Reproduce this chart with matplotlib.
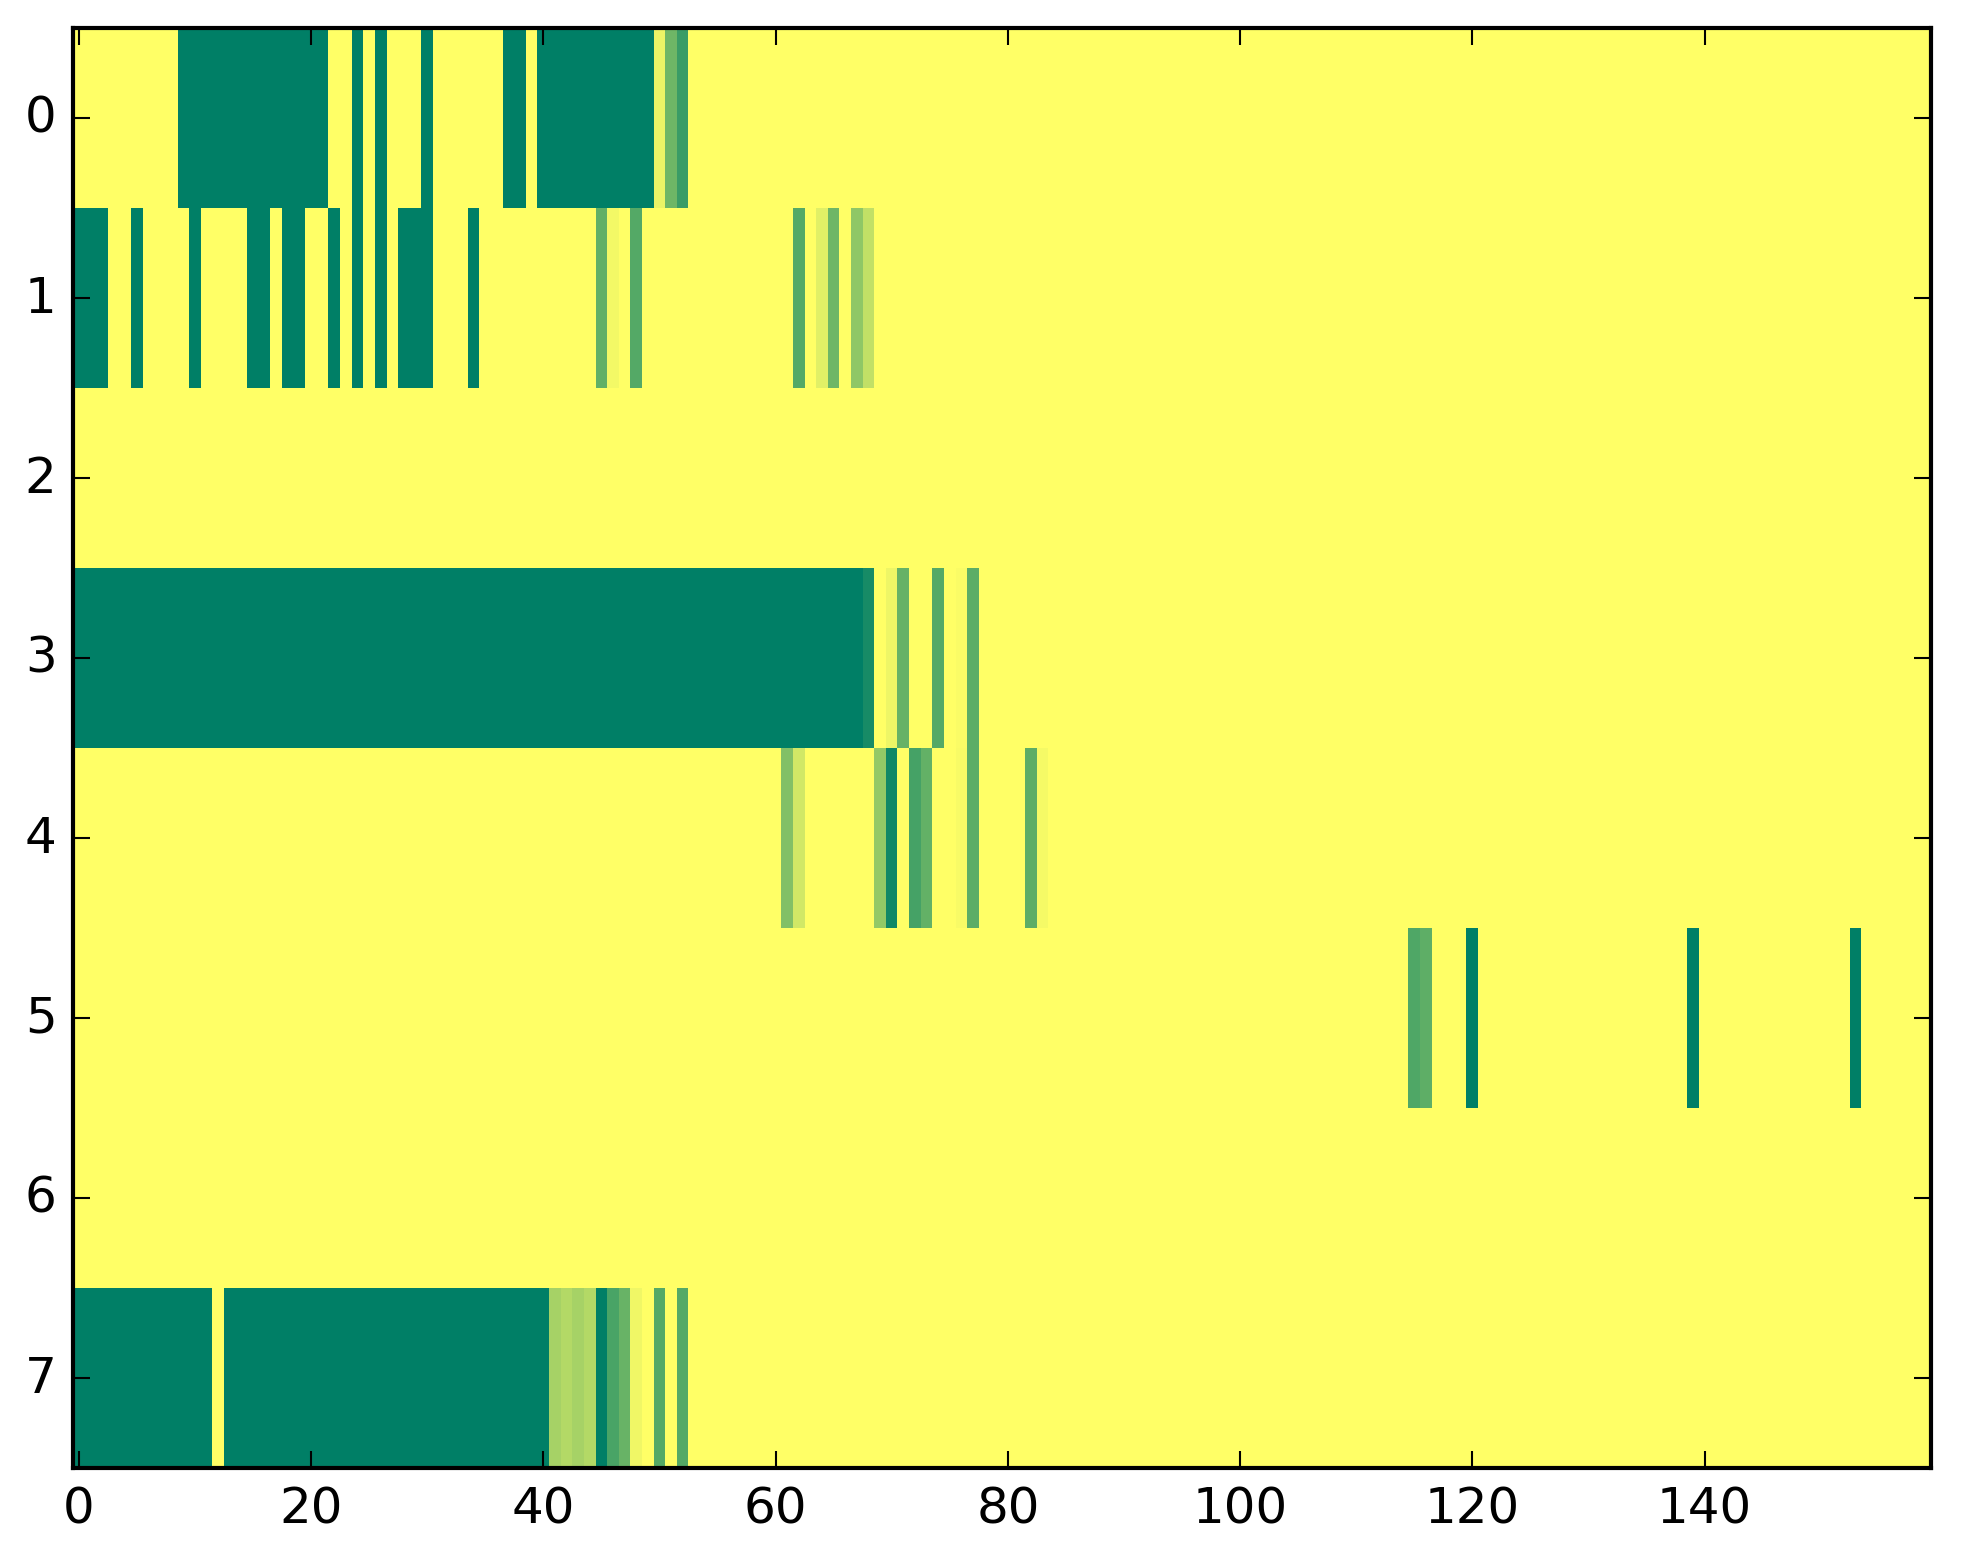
import numpy as np
import matplotlib.pyplot as plt

plt.style.use('classic')

n_rows = 8
n_cols = 160

# cells below the full value 1.0 (column: value); every other cell is 1.0
row0 = {c: 0.0 for c in list(range(9, 22)) + [24, 26, 30, 37, 38] + list(range(40, 50))}
row0.update({50: 0.92, 51: 0.43, 52: 0.23})

row1 = {c: 0.0 for c in [0, 1, 2, 5, 10, 15, 16, 18, 19, 22, 24, 26, 28, 29, 30, 34]}
row1.update({45: 0.38, 46: 0.95, 48: 0.33, 62: 0.33, 64: 0.88, 65: 0.43, 67: 0.56, 68: 0.76})

row2 = {}

row3 = {c: 0.0 for c in range(0, 68)}
row3.update({68: 0.09, 70: 0.93, 71: 0.40, 74: 0.33, 76: 0.98, 77: 0.36})

row4 = {61: 0.51, 62: 0.82, 69: 0.58, 70: 0.07, 72: 0.27, 73: 0.39,
        76: 0.97, 77: 0.36, 82: 0.36, 83: 0.96}

row5 = {115: 0.31, 116: 0.37, 120: 0.0, 139: 0.0, 153: 0.0}

row6 = {}

row7 = {c: 0.0 for c in list(range(0, 12)) + list(range(13, 41))}
row7.update({41: 0.65, 42: 0.70, 43: 0.65, 44: 0.70, 45: 0.0, 46: 0.29,
             47: 0.41, 48: 0.94, 50: 0.33, 52: 0.33})

rows = [row0, row1, row2, row3, row4, row5, row6, row7]

grid = np.ones((n_rows, n_cols))
for r, cells in enumerate(rows):
    for c, v in cells.items():
        grid[r, c] = v

fig = plt.figure(figsize=(1963 / 300, 1564 / 300), dpi=300)
ax = fig.add_axes([0.0373, 0.0608, 0.9464, 0.9207])
ax.imshow(grid, cmap='summer', aspect='auto', interpolation='nearest', vmin=0, vmax=1)
ax.set_yticks(range(n_rows))
ax.set_xticks(range(0, 141, 20))

fig.savefig('out.png', dpi=300)
